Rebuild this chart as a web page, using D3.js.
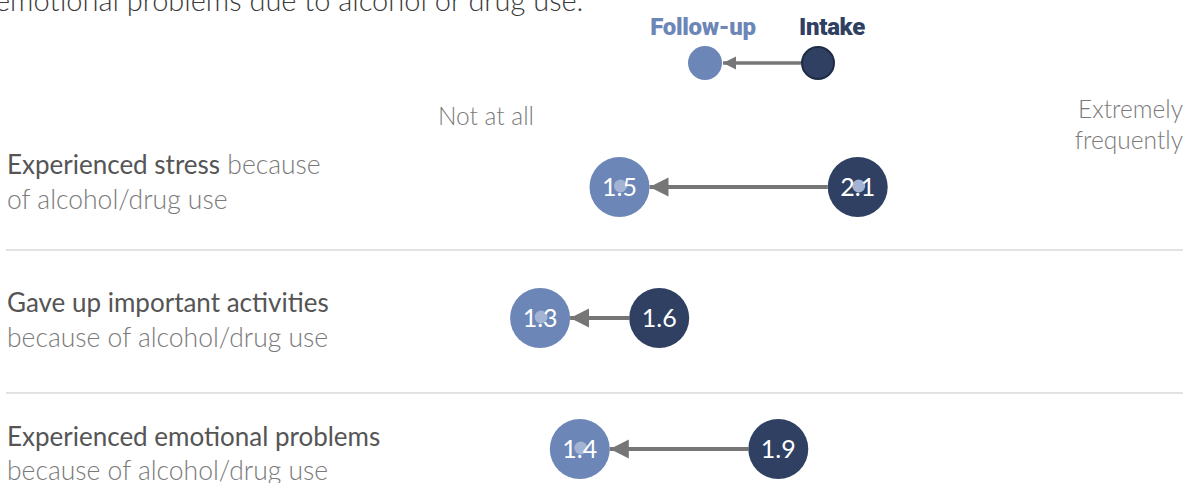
<!DOCTYPE html>
<html>
<head>
<meta charset="utf-8">
<script src="https://cdn.jsdelivr.net/npm/d3@7"></script>
<style>
  html, body { margin: 0; padding: 0; background: #fff; overflow: hidden; }
  svg { display: block; }
</style>
</head>
<body>
<svg id="chart" width="1183" height="483"></svg>
<script>
// Change in self-reported alcohol/drug consequences, intake vs follow-up
const itemsBold = ["Experienced stress", "Gave up important activities", "Experienced emotional problems"];
const itemsLine1Rest = [" because", "", ""];
const itemsLine2 = ["of alcohol/drug use", "because of alcohol/drug use", "because of alcohol/drug use"];
const intakeValues = [2.1, 1.6, 1.9];
const followUpValues = [1.5, 1.3, 1.4];
// small highlight markers shown inside some circles
const highlightValues = [[1.5, 2.1], [1.3], [1.4]];
const scaleLabels = ["Not at all", "Extremely", "frequently"];
const legendLabels = ["Follow-up", "Intake"];
const titleTail = "emotional problems due to alcohol or drug use.";

const colFollow = "#6b86b7";
const colIntake = "#2f4062";
const colArrow = "#767676";
const font = "Lato, 'Open Sans', sans-serif";

const svg = d3.select("#chart");
const W = 1183;

const x = d3.scaleLinear().domain([1, 2]).range([421, 818]);
const y = d3.scalePoint().domain(d3.range(itemsBold.length)).range([187, 449]);
const r = 30;

// arrowhead markers
const defs = svg.append("defs");
defs.append("marker")
  .attr("id", "head")
  .attr("viewBox", "0 0 10 10")
  .attr("refX", 10).attr("refY", 5)
  .attr("markerUnits", "userSpaceOnUse")
  .attr("markerWidth", 19).attr("markerHeight", 25)
  .attr("orient", "auto")
  .append("path").attr("d", "M0,0 L10,5 L0,10 Z").attr("fill", colArrow);
defs.append("marker")
  .attr("id", "headSmall")
  .attr("viewBox", "0 0 10 10")
  .attr("refX", 10).attr("refY", 5)
  .attr("markerUnits", "userSpaceOnUse")
  .attr("markerWidth", 13).attr("markerHeight", 14)
  .attr("orient", "auto")
  .append("path").attr("d", "M0,0 L10,5 L0,10 Z").attr("fill", colArrow);

// title tail (last line of the heading)
svg.append("text")
  .attr("x", -5).attr("y", 11)
  .attr("font-family", font).attr("font-weight", 300)
  .attr("font-size", 29).attr("fill", "#3a3a3a")
  .text(titleTail);

// legend
const lg = svg.append("g");
lg.append("text").attr("x", 703).attr("y", 35).attr("text-anchor", "middle")
  .attr("font-family", "Roboto, sans-serif").attr("font-weight", 900)
  .attr("font-size", 24).attr("letter-spacing", -0.3).attr("fill", colFollow)
  .text(legendLabels[0]);
lg.append("text").attr("x", 832).attr("y", 35).attr("text-anchor", "middle")
  .attr("font-family", "Roboto, sans-serif").attr("font-weight", 900)
  .attr("font-size", 24).attr("letter-spacing", -0.3).attr("fill", colIntake)
  .text(legendLabels[1]);
lg.append("line").attr("x1", 801).attr("x2", 723).attr("y1", 63).attr("y2", 63)
  .attr("stroke", colArrow).attr("stroke-width", 3.5).attr("marker-end", "url(#headSmall)");
lg.append("circle").attr("cx", 705).attr("cy", 63).attr("r", 17).attr("fill", colFollow);
lg.append("circle").attr("cx", 818).attr("cy", 63).attr("r", 16).attr("fill", colIntake)
  .attr("stroke", "#1e2b45").attr("stroke-width", 2);

// scale end labels
const scaleStyle = sel => sel.attr("font-family", font).attr("font-weight", 300)
  .attr("font-size", 24.5).attr("fill", "#7a7a7a");
svg.append("text").attr("x", 486).attr("y", 125).attr("text-anchor", "middle")
  .call(scaleStyle).text(scaleLabels[0]);
svg.append("text").attr("x", W).attr("y", 118).attr("text-anchor", "end")
  .call(scaleStyle).text(scaleLabels[1]);
svg.append("text").attr("x", W).attr("y", 149).attr("text-anchor", "end")
  .call(scaleStyle).text(scaleLabels[2]);

// separators below the first two rows
const sepOffsets = [63, 75];
svg.selectAll("line.sep").data(sepOffsets).join("line")
  .attr("class", "sep")
  .attr("x1", 6).attr("x2", W)
  .attr("y1", (d, i) => y(i) + d)
  .attr("y2", (d, i) => y(i) + d)
  .attr("stroke", "#e2e2e2").attr("stroke-width", 2);

// rows
const rows = svg.selectAll("g.row").data(d3.range(itemsBold.length)).join("g")
  .attr("class", "row");

// row labels (baseline offsets from the row centre)
const labelOffsets = [[-13, 22], [-6, 29], [-3, 31]];
rows.each(function (i) {
  const g = d3.select(this);
  const t1 = g.append("text").attr("x", 7).attr("y", y(i) + labelOffsets[i][0])
    .attr("font-family", font);
  t1.append("tspan").attr("font-weight", 400).attr("font-size", 26).attr("fill", "#555").text(itemsBold[i]);
  if (itemsLine1Rest[i]) t1.append("tspan").attr("font-weight", 300).attr("font-size", 26.5)
    .attr("fill", "#7a7a7a").text(itemsLine1Rest[i]);
  g.append("text").attr("x", 7).attr("y", y(i) + labelOffsets[i][1])
    .attr("font-family", font).attr("font-weight", 300).attr("font-size", 26.5).attr("fill", "#7a7a7a")
    .text(itemsLine2[i]);
});

// arrows from intake to follow-up
rows.append("line")
  .attr("x1", i => x(intakeValues[i]) - r)
  .attr("x2", i => x(followUpValues[i]) + r)
  .attr("y1", i => y(i)).attr("y2", i => y(i))
  .attr("stroke", colArrow).attr("stroke-width", 4)
  .attr("marker-end", "url(#head)");

// circles
rows.append("circle")
  .attr("cx", i => x(followUpValues[i])).attr("cy", i => y(i)).attr("r", r)
  .attr("fill", colFollow);
rows.append("circle")
  .attr("cx", i => x(intakeValues[i])).attr("cy", i => y(i)).attr("r", r)
  .attr("fill", colIntake);

// highlight dots
rows.each(function (i) {
  d3.select(this).selectAll("circle.hl").data(highlightValues[i]).join("circle")
    .attr("class", "hl")
    .attr("cx", v => x(v) + 1).attr("cy", y(i) - 1).attr("r", 6.5)
    .attr("fill", "#a3b3d3");
});

// value labels
rows.append("text")
  .attr("x", i => x(followUpValues[i])).attr("y", i => y(i) + 9)
  .attr("text-anchor", "middle").attr("font-family", font).attr("font-size", 25)
  .attr("fill", "#fff").text(i => followUpValues[i].toFixed(1));
rows.append("text")
  .attr("x", i => x(intakeValues[i])).attr("y", i => y(i) + 9)
  .attr("text-anchor", "middle").attr("font-family", font).attr("font-size", 25)
  .attr("fill", "#fff").text(i => intakeValues[i].toFixed(1));
</script>
</body>
</html>
